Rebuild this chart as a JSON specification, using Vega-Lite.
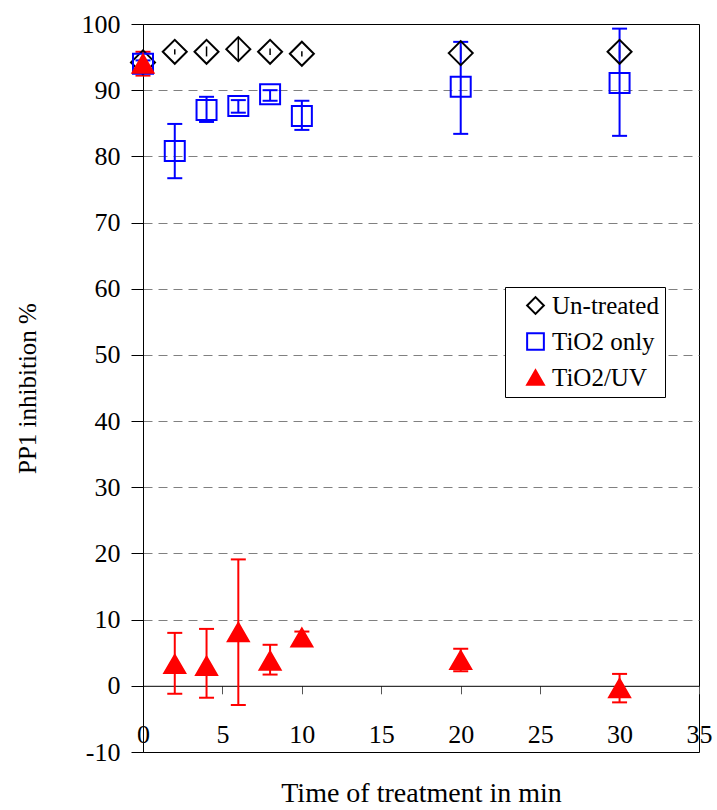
{
  "$schema": "https://vega.github.io/schema/vega-lite/v6.json",
  "width": 556,
  "height": 728,
  "autosize": {"type": "none"},
  "padding": {"left": 143, "top": 24, "right": 18, "bottom": 58},
  "background": "white",
  "config": {
    "view": {"stroke": "black", "strokeWidth": 1},
    "font": "Times New Roman, Liberation Serif, DejaVu Serif, serif",
    "legend": {
      "orient": "none", "legendX": 362, "legendY": 263, "title": null,
      "strokeColor": "black", "fillColor": "white", "padding": 6,
      "labelFontSize": 25, "labelFont": "Times New Roman, Liberation Serif, DejaVu Serif, serif", "labelColor": "black",
      "symbolSize": 280, "symbolStrokeWidth": 2, "rowPadding": 10,
      "symbolOffset": 12, "labelOffset": 4, "labelLimit": 300
    }
  },
  "data": {
    "values": [
      {"series": "Un-treated", "t": 0, "y": 94.2, "lo": 93.7, "hi": 94.7},
      {"series": "Un-treated", "t": 2, "y": 95.8, "lo": 95.4, "hi": 96.2},
      {"series": "Un-treated", "t": 4, "y": 95.8, "lo": 95.1, "hi": 96.6},
      {"series": "Un-treated", "t": 6, "y": 96.2, "lo": 94.4, "hi": 98.0},
      {"series": "Un-treated", "t": 8, "y": 95.8, "lo": 95.3, "hi": 96.3},
      {"series": "Un-treated", "t": 10, "y": 95.5, "lo": 95.1, "hi": 95.9},
      {"series": "Un-treated", "t": 20, "y": 95.6, "lo": 94.6, "hi": 96.6},
      {"series": "Un-treated", "t": 30, "y": 95.8, "lo": 94.8, "hi": 96.8},
      {"series": "TiO2 only", "t": 0, "y": 94.0, "lo": 93.5, "hi": 94.5},
      {"series": "TiO2 only", "t": 2, "y": 80.8, "lo": 76.7, "hi": 84.9},
      {"series": "TiO2 only", "t": 4, "y": 87.0, "lo": 85.2, "hi": 89.0},
      {"series": "TiO2 only", "t": 6, "y": 87.6, "lo": 86.6, "hi": 88.5},
      {"series": "TiO2 only", "t": 8, "y": 89.4, "lo": 88.4, "hi": 90.0},
      {"series": "TiO2 only", "t": 10, "y": 86.1, "lo": 84.0, "hi": 88.4},
      {"series": "TiO2 only", "t": 20, "y": 90.5, "lo": 83.4, "hi": 97.3},
      {"series": "TiO2 only", "t": 30, "y": 91.1, "lo": 83.1, "hi": 99.3},
      {"series": "TiO2/UV", "t": 0, "y": 94.0, "lo": 92.2, "hi": 95.8},
      {"series": "TiO2/UV", "t": 2, "y": 3.3, "lo": -1.2, "hi": 8.0},
      {"series": "TiO2/UV", "t": 4, "y": 3.0, "lo": -1.8, "hi": 8.6},
      {"series": "TiO2/UV", "t": 6, "y": 8.1, "lo": -2.9, "hi": 19.1},
      {"series": "TiO2/UV", "t": 8, "y": 3.8, "lo": 1.7, "hi": 6.2},
      {"series": "TiO2/UV", "t": 10, "y": 7.3, "lo": 6.6, "hi": 8.2},
      {"series": "TiO2/UV", "t": 20, "y": 3.9, "lo": 2.2, "hi": 5.6},
      {"series": "TiO2/UV", "t": 30, "y": -0.35, "lo": -2.5, "hi": 1.8}
    ]
  },
  "encoding": {
    "x": {
      "field": "t",
      "type": "quantitative",
      "scale": {"domain": [0, 35], "nice": false, "zero": false},
      "axis": {
        "values": [0, 5, 10, 15, 20, 25, 30, 35],
        "offset": -66.2,
        "tickSize": 8,
        "tickColor": "#555555",
        "domainColor": "black",
        "labelPadding": 28,
        "labelFontSize": 26,
        "labelFont": "Times New Roman, Liberation Serif, DejaVu Serif, serif",
        "labelColor": "black",
        "labelFlush": false,
        "labelOverlap": false,
        "grid": false,
        "title": "Time of treatment in min",
        "titleFont": "Times New Roman, Liberation Serif, DejaVu Serif, serif",
        "titleFontSize": 28,
        "titleFontWeight": "normal",
        "titleColor": "black",
        "titleX": 278,
        "titleY": 94,
        "titleAlign": "center",
        "titleBaseline": "top"
      }
    },
    "y": {
      "field": "y",
      "type": "quantitative",
      "scale": {"domain": [-10, 100], "nice": false, "zero": false},
      "axis": {
        "values": [-10, 0, 10, 20, 30, 40, 50, 60, 70, 80, 90, 100],
        "labelExpr": "'' + datum.value",
        "tickSize": 12,
        "tickColor": "black",
        "domainColor": "black",
        "labelPadding": 11,
        "labelFontSize": 26,
        "labelFont": "Times New Roman, Liberation Serif, DejaVu Serif, serif",
        "labelColor": "black",
        "labelFlush": false,
        "labelOverlap": false,
        "grid": true,
        "gridColor": "#808080",
        "gridDash": [9, 6],
        "gridOpacity": {"condition": {"test": "datum.value <= 0 || datum.value >= 100", "value": 0}, "value": 1},
        "title": "PP1 inhibition %",
        "titleFont": "Times New Roman, Liberation Serif, DejaVu Serif, serif",
        "titleFontSize": 25,
        "titleFontWeight": "normal",
        "titleColor": "black",
        "titleAngle": -90,
        "titleX": -108,
        "titleY": 364,
        "titleAlign": "center",
        "titleBaseline": "alphabetic"
      }
    }
  },
  "layer": [
    {
      "transform": [{"filter": "datum.series == 'Un-treated'"}],
      "mark": {"type": "rule", "color": "black", "strokeWidth": 1.5},
      "encoding": {
        "y": {"field": "lo", "type": "quantitative", "title": "PP1 inhibition %"},
        "y2": {"field": "hi"}
      }
    },
    {
      "transform": [{"filter": "datum.series == 'TiO2 only'"}],
      "mark": {"type": "rule", "color": "#0000FF", "strokeWidth": 2},
      "encoding": {
        "y": {"field": "lo", "type": "quantitative", "title": "PP1 inhibition %"},
        "y2": {"field": "hi"}
      }
    },
    {
      "transform": [{"filter": "datum.series == 'TiO2 only'"}],
      "mark": {"type": "point", "shape": "stroke", "size": 225, "stroke": "#0000FF", "strokeWidth": 2, "opacity": 1},
      "encoding": {
        "y": {"field": "lo", "type": "quantitative", "title": "PP1 inhibition %"}
      }
    },
    {
      "transform": [{"filter": "datum.series == 'TiO2 only'"}],
      "mark": {"type": "point", "shape": "stroke", "size": 225, "stroke": "#0000FF", "strokeWidth": 2, "opacity": 1},
      "encoding": {
        "y": {"field": "hi", "type": "quantitative", "title": "PP1 inhibition %"}
      }
    },
    {
      "transform": [{"filter": "datum.series == 'TiO2/UV'"}],
      "mark": {"type": "rule", "color": "#FF0000", "strokeWidth": 2},
      "encoding": {
        "y": {"field": "lo", "type": "quantitative", "title": "PP1 inhibition %"},
        "y2": {"field": "hi"}
      }
    },
    {
      "transform": [{"filter": "datum.series == 'TiO2/UV'"}],
      "mark": {"type": "point", "shape": "stroke", "size": 225, "stroke": "#FF0000", "strokeWidth": 2, "opacity": 1},
      "encoding": {
        "y": {"field": "lo", "type": "quantitative", "title": "PP1 inhibition %"}
      }
    },
    {
      "transform": [{"filter": "datum.series == 'TiO2/UV'"}],
      "mark": {"type": "point", "shape": "stroke", "size": 225, "stroke": "#FF0000", "strokeWidth": 2, "opacity": 1},
      "encoding": {
        "y": {"field": "hi", "type": "quantitative", "title": "PP1 inhibition %"}
      }
    },
    {
      "transform": [{"filter": "datum.series == 'Un-treated'"}],
      "mark": {"type": "point", "strokeWidth": 2, "opacity": 1, "size": 576},
      "encoding": {
        "shape": {"field": "series", "type": "nominal", "title": null,
          "scale": {"domain": ["Un-treated", "TiO2 only", "TiO2/UV"], "range": ["diamond", "square", "triangle-up"]}},
        "stroke": {"field": "series", "type": "nominal", "title": null,
          "scale": {"domain": ["Un-treated", "TiO2 only", "TiO2/UV"], "range": ["black", "#0000FF", "#FF0000"]}},
        "fill": {"field": "series", "type": "nominal", "title": null,
          "scale": {"domain": ["Un-treated", "TiO2 only", "TiO2/UV"], "range": ["transparent", "transparent", "#FF0000"]}}
      }
    },
    {
      "transform": [{"filter": "datum.series == 'TiO2 only'"}],
      "mark": {"type": "point", "strokeWidth": 2, "opacity": 1, "size": 400},
      "encoding": {
        "shape": {"field": "series", "type": "nominal", "title": null},
        "stroke": {"field": "series", "type": "nominal", "title": null},
        "fill": {"field": "series", "type": "nominal", "title": null}
      }
    },
    {
      "transform": [{"filter": "datum.series == 'TiO2/UV'"}],
      "mark": {"type": "point", "strokeWidth": 2, "opacity": 1, "size": 441},
      "encoding": {
        "shape": {"field": "series", "type": "nominal", "title": null},
        "stroke": {"field": "series", "type": "nominal", "title": null},
        "fill": {"field": "series", "type": "nominal", "title": null}
      }
    }
  ]
}
